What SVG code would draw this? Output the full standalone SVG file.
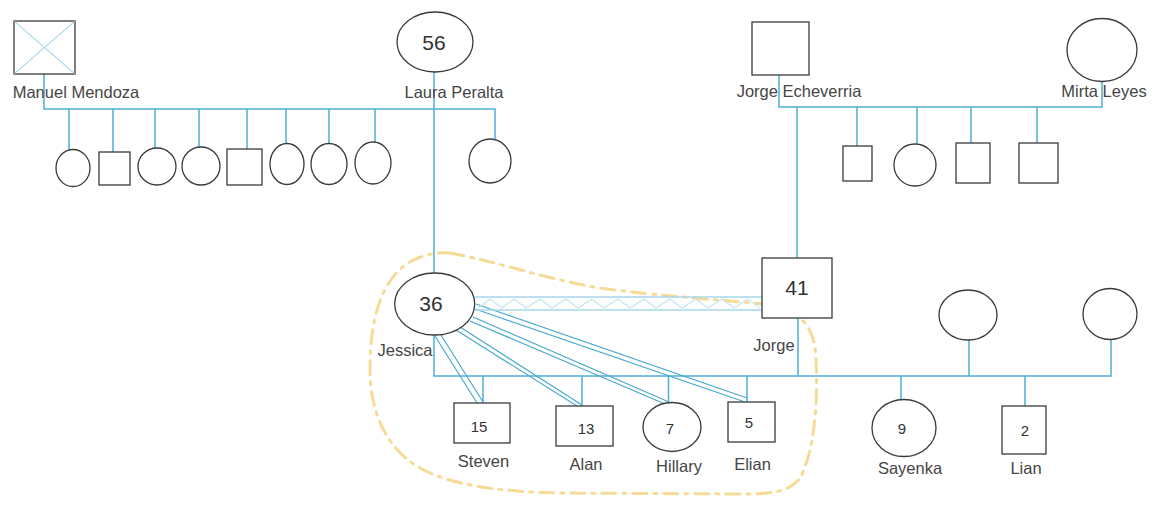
<svg xmlns="http://www.w3.org/2000/svg" width="1160" height="506" viewBox="0 0 1160 506">
<style>
.bg{fill:#ffffff}
.sh{fill:#ffffff;stroke:#3a3a3a;stroke-width:1.3}
.ln{fill:none;stroke:#4fb0d6;stroke-width:1.5}
.dbl{fill:none;stroke:#4aa8cf;stroke-width:1.2}
.rel{fill:none;stroke:#a8d8ec;stroke-width:1.4}
.zz{fill:none;stroke:#c4e5f3;stroke-width:1.2}
.xx{stroke:#86c8e2;stroke-width:1}
.hl{fill:none;stroke:#f3d27a;stroke-width:3;stroke-dasharray:14 7 3 7;stroke-linecap:round;opacity:0.8}
.lbl{font-family:"Liberation Sans",Arial,sans-serif;font-size:16.5px;fill:#454545;text-anchor:middle}
.big{font-family:"Liberation Sans",Arial,sans-serif;font-size:21px;fill:#333333;text-anchor:middle}
.sm{font-family:"Liberation Sans",Arial,sans-serif;font-size:15px;fill:#333333;text-anchor:middle}
</style>
<rect class="bg" x="0" y="0" width="1160" height="506"/>

<g id="highlight">
<path class="hl" d="M450,253 C500,262 540,278 600,288 C660,296 720,300 765,304 C800,310 815,325 816,360 C818,400 815,450 800,478 C790,492 770,494 740,494 L560,493 C500,492 450,485 420,468 C385,448 370,410 370,370 C370,320 380,285 405,265 C420,255 435,252 450,253 Z"/>
</g>

<g id="connectors">
<path class="ln" d="M44,74 V109 H495 V139"/>
<path class="ln" d="M69,109 V149 M113,109 V152 M155,109 V148 M199,109 V147 M247,109 V149 M286,109 V143 M329,109 V143 M375,109 V142"/>
<path class="ln" d="M434,72 V273"/>
<path class="ln" d="M779,75 V107 H1102 V81"/>
<path class="ln" d="M857,107 V146 M917,107 V144 M971,107 V143 M1037,107 V143"/>
<path class="ln" d="M797,107 V258"/>
<path class="ln" d="M434,335 V376 H1111 V340"/>
<path class="ln" d="M798,318 V376 M969,340 V376"/>
<path class="ln" d="M483,376 V403 M582,376 V406 M668.5,376 V402.5 M747,376 V402 M901,376 V400 M1025,376 V406"/>
<g id="jessica-children">
<path class="dbl" d="M435,336 L477,403 M441,335 L483,402"/>
<path class="dbl" d="M456,330 L577,406 M460,327 L582,405"/>
<path class="dbl" d="M470,321 L665,404 M473,317 L669,402"/>
<path class="dbl" d="M475,309 L745,402 M476,304 L747,398"/>
</g>
<g id="jessica-jorge">
<path class="rel" d="M475,297 H762 M475,310 H762"/>
<polyline class="zz" points="478,308 490,299 502,308 514,299 526,308 540,299 552,308 566,299 578,308 592,299 604,308 618,299 630,308 644,299 656,308 670,299 682,308 696,299 708,308 722,299 734,308 748,299 760,308"/>
</g>
</g>

<g id="manuel-mendoza">
<rect class="sh" x="14" y="21" width="61" height="53"/>
<line class="xx" x1="14" y1="21" x2="75" y2="74"/>
<line class="xx" x1="75" y1="21" x2="14" y2="74"/>
<text class="lbl" x="76" y="98">Manuel Mendoza</text>
</g>
<g id="laura-peralta">
<ellipse class="sh" cx="435" cy="42" rx="38" ry="30"/>
<text class="big" x="434" y="50">56</text>
<text class="lbl" x="454" y="98">Laura Peralta</text>
</g>
<g id="jorge-echeverria">
<rect class="sh" x="752" y="22" width="57" height="53"/>
<text class="lbl" x="799" y="97">Jorge Echeverria</text>
</g>
<g id="mirta-leyes">
<ellipse class="sh" cx="1102" cy="50" rx="35" ry="31.5"/>
<text class="lbl" x="1104" y="97">Mirta Leyes</text>
</g>

<g id="mm-child-1"><ellipse class="sh" cx="73" cy="168" rx="17" ry="18.5"/></g>
<g id="mm-child-2"><rect class="sh" x="99" y="152" width="31" height="33"/></g>
<g id="mm-child-3"><ellipse class="sh" cx="157" cy="166.5" rx="19" ry="18.5"/></g>
<g id="mm-child-4"><ellipse class="sh" cx="201" cy="166" rx="19" ry="19"/></g>
<g id="mm-child-5"><rect class="sh" x="227" y="149" width="35" height="36"/></g>
<g id="mm-child-6"><ellipse class="sh" cx="287" cy="164" rx="17" ry="20.5"/></g>
<g id="mm-child-7"><ellipse class="sh" cx="329" cy="164" rx="18" ry="20.5"/></g>
<g id="mm-child-8"><ellipse class="sh" cx="373" cy="163" rx="18" ry="21"/></g>
<g id="lp-child"><ellipse class="sh" cx="490" cy="161" rx="21" ry="22"/></g>

<g id="je-child-1"><rect class="sh" x="843" y="146" width="29" height="35"/></g>
<g id="je-child-2"><ellipse class="sh" cx="915" cy="165" rx="21" ry="21"/></g>
<g id="je-child-3"><rect class="sh" x="956" y="143" width="34" height="40"/></g>
<g id="je-child-4"><rect class="sh" x="1019" y="143" width="39" height="40"/></g>

<g id="jessica">
<ellipse class="sh" cx="434.7" cy="304" rx="40" ry="31"/>
<text class="big" x="431" y="311">36</text>
<text class="lbl" x="405" y="356">Jessica</text>
</g>
<g id="jorge">
<rect class="sh" x="762" y="258" width="70" height="60"/>
<text class="big" x="797" y="295">41</text>
<text class="lbl" x="774" y="351">Jorge</text>
</g>
<g id="partner-1"><ellipse class="sh" cx="968" cy="315" rx="29" ry="25"/></g>
<g id="partner-2"><ellipse class="sh" cx="1110" cy="314" rx="27" ry="25.5"/></g>

<g id="steven">
<rect class="sh" x="454" y="403" width="56" height="40"/>
<text class="sm" x="479" y="432">15</text>
<text class="lbl" x="483.5" y="467">Steven</text>
</g>
<g id="alan">
<rect class="sh" x="556" y="406" width="57" height="40"/>
<text class="sm" x="586" y="434">13</text>
<text class="lbl" x="586" y="470">Alan</text>
</g>
<g id="hillary">
<ellipse class="sh" cx="672" cy="427" rx="29" ry="24.5"/>
<text class="sm" x="670" y="434">7</text>
<text class="lbl" x="679" y="472">Hillary</text>
</g>
<g id="elian">
<rect class="sh" x="728" y="402" width="47" height="40"/>
<text class="sm" x="749" y="428">5</text>
<text class="lbl" x="752.5" y="470">Elian</text>
</g>
<g id="sayenka">
<ellipse class="sh" cx="904" cy="428" rx="32" ry="28.5"/>
<text class="sm" x="902" y="434">9</text>
<text class="lbl" x="910" y="474">Sayenka</text>
</g>
<g id="lian">
<rect class="sh" x="1002" y="406" width="44" height="48"/>
<text class="sm" x="1025" y="436">2</text>
<text class="lbl" x="1026" y="474">Lian</text>
</g>
</svg>
